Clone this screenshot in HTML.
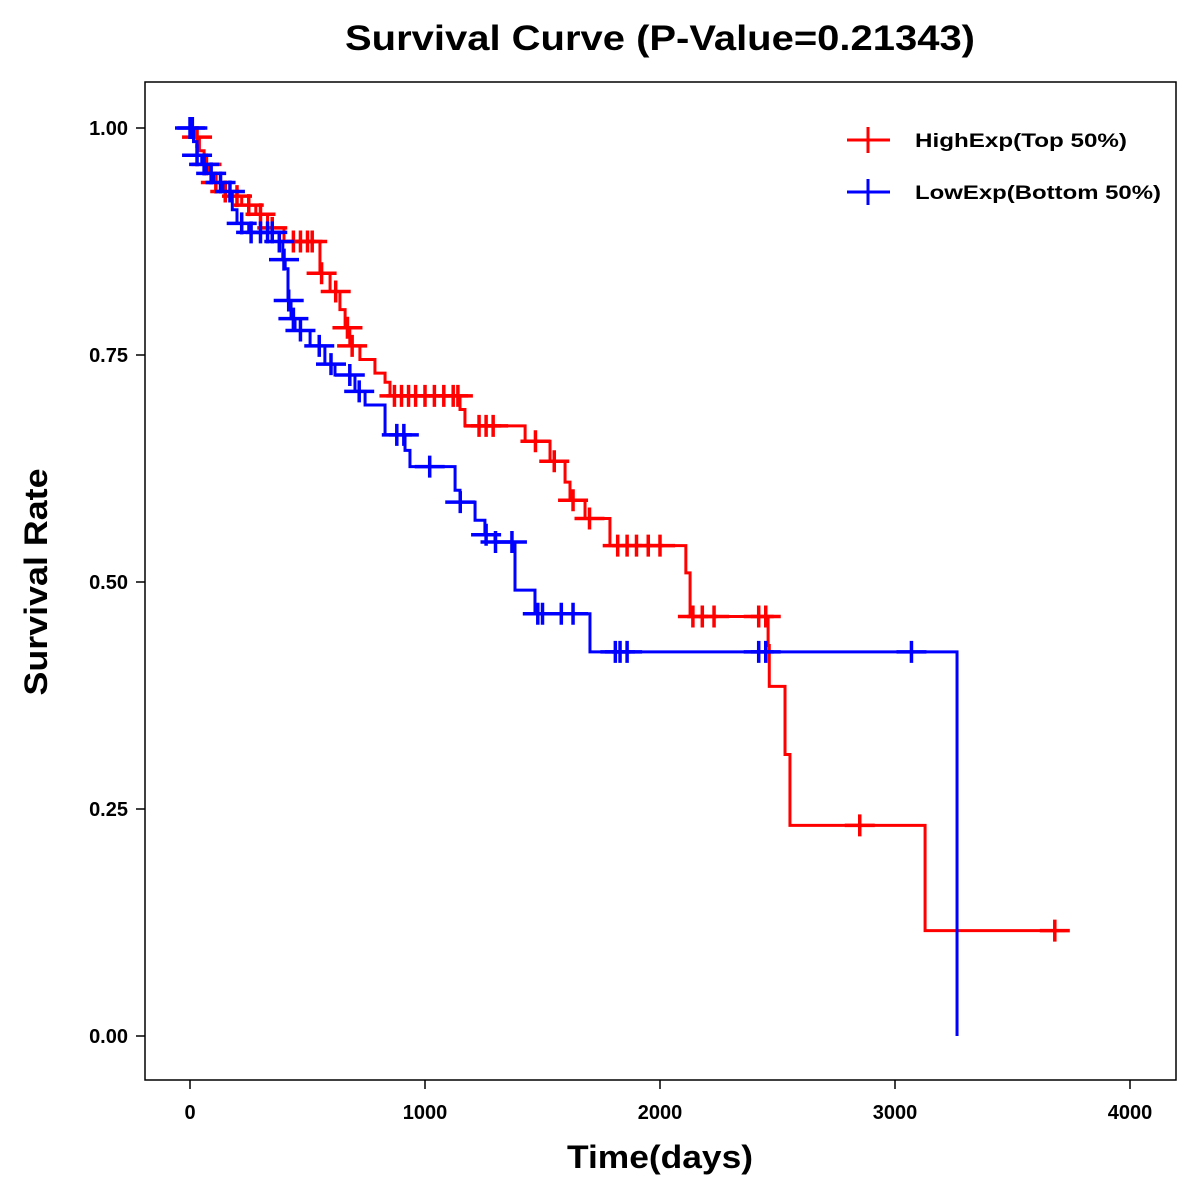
<!DOCTYPE html>
<html><head><meta charset="utf-8"><style>
body{margin:0;background:#fff;}
svg{display:block;font-family:"Liberation Sans",Arial,sans-serif;font-weight:bold;}
</style></head><body>
<svg id="chart" width="1200" height="1200" xmlns="http://www.w3.org/2000/svg">
<text x="660" y="50" text-anchor="middle" font-size="35" textLength="630" lengthAdjust="spacingAndGlyphs">Survival Curve (P-Value=0.21343)</text>
<rect x="145" y="82" width="1031" height="998" fill="none" stroke="#000" stroke-width="1.5"/>
<g id="axes"></g>
<g id="series"></g>
<text x="660" y="1168" text-anchor="middle" font-size="32" textLength="186" lengthAdjust="spacingAndGlyphs">Time(days)</text>
<text transform="translate(47,582) rotate(-90)" text-anchor="middle" font-size="32" textLength="227" lengthAdjust="spacingAndGlyphs">Survival Rate</text>
<g>
<g>
<line x1="847" y1="140" x2="890" y2="140" stroke="#f00" stroke-width="3"/>
<line x1="868" y1="127" x2="868" y2="153" stroke="#f00" stroke-width="3"/>
<text x="915" y="147" font-size="19" textLength="212" lengthAdjust="spacingAndGlyphs">HighExp(Top 50%)</text></g>
<g>
<line x1="847" y1="192" x2="890" y2="192" stroke="#00f" stroke-width="3"/>
<line x1="868" y1="179" x2="868" y2="205" stroke="#00f" stroke-width="3"/>
<text x="915" y="199" font-size="19" textLength="246" lengthAdjust="spacingAndGlyphs">LowExp(Bottom 50%)</text></g>
</g>
</svg>
<script>
const xTicks=[0,1000,2000,3000,4000];
const yTicks=[0,0.25,0.5,0.75,1.0];
const yTickLabels=["0.00","0.25","0.50","0.75","1.00"];
const highTimes=[0,20,40,60,80,100,130,170,220,280,330,400,553,596,638,660,680,723,787,830,851,1149,1170,1426,1532,1596,1617,1681,1787,2110,2128,2460,2465,2532,2553,3128];
const highSurv=[1,0.99,0.975,0.96,0.95,0.94,0.93,0.925,0.915,0.905,0.89,0.875,0.84,0.82,0.80,0.78,0.76,0.745,0.73,0.72,0.705,0.69,0.672,0.655,0.633,0.61,0.59,0.57,0.54,0.51,0.462,0.43,0.385,0.31,0.232,0.116];
const highEnd=3723;
const highCensor=[30,70,110,150,200,250,300,350,440,470,500,520,560,620,670,690,870,900,930,960,1000,1040,1080,1120,1140,1230,1260,1290,1470,1550,1630,1700,1820,1860,1900,1950,2000,2140,2180,2230,2420,2450,2850,3680];
const lowTimes=[0,15,30,50,70,100,140,180,200,250,380,395,405,417,430,447,511,574,617,702,745,830,915,936,1128,1149,1213,1255,1298,1383,1468,1702,3264];
const lowSurv=[1,0.985,0.97,0.96,0.95,0.94,0.93,0.91,0.895,0.885,0.875,0.855,0.845,0.81,0.79,0.777,0.76,0.74,0.728,0.71,0.695,0.662,0.645,0.627,0.601,0.588,0.568,0.552,0.544,0.491,0.465,0.423,0];
const lowEnd=3264;
const lowCensor=[0,10,30,60,90,130,170,220,260,300,330,350,380,400,420,440,470,550,600,680,720,880,910,1020,1150,1260,1300,1370,1480,1500,1580,1630,1810,1830,1860,2420,2450,3070];

const X=d=>190+d*0.235;
const Y=s=>1036-s*908;
const NS="http://www.w3.org/2000/svg";
function mk(tag,attrs,parent){const e=document.createElementNS(NS,tag);for(const k in attrs)e.setAttribute(k,attrs[k]);parent.appendChild(e);return e;}
const axes=document.getElementById('axes');
xTicks.forEach(t=>{
 const l=mk('line',{x1:X(t),x2:X(t),y1:1080,y2:1089,stroke:'#000','stroke-width':1.5},axes);
 
 
 const tx=mk('text',{x:X(t),y:1119,'text-anchor':'middle','font-size':20},axes);tx.textContent=t;
 
 
});
yTicks.forEach((t,i)=>{
 const l=mk('line',{x1:136,x2:145,y1:Y(t),y2:Y(t),stroke:'#000','stroke-width':1.5},axes);
 
 
 const tx=mk('text',{x:128,y:Y(t)+7,'text-anchor':'end','font-size':20},axes);tx.textContent=yTickLabels[i];
 
 
});
const ser=document.getElementById('series');
function survAt(times,surv,t){let s=surv[0];for(let i=0;i<times.length;i++){if(times[i]<=t)s=surv[i];}return s;}
function draw(times,surv,end,cens,color,name){
 const g=mk('g',{},ser);
 
 
 let d='M'+X(times[0])+','+Y(surv[0]);
 for(let i=1;i<times.length;i++){d+=' H'+X(times[i])+' V'+Y(surv[i]);}
 d+=' H'+X(end);
 const p=mk('path',{d:d,fill:'none',stroke:color,'stroke-width':3},g);
 
 
 cens.forEach(c=>{
  const s=survAt(times,surv,c),cx=X(c),cy=Y(s);
  const m=mk('path',{d:`M${cx-15},${cy} H${cx+15} M${cx},${cy-11} V${cy+11}`,stroke:color,'stroke-width':3.5,fill:'none'},g);
  
  
 });
}
draw(highTimes,highSurv,highEnd,highCensor,'#f00','high-exp');
draw(lowTimes,lowSurv,lowEnd,lowCensor,'#00f','low-exp');
</script>
</body></html>
